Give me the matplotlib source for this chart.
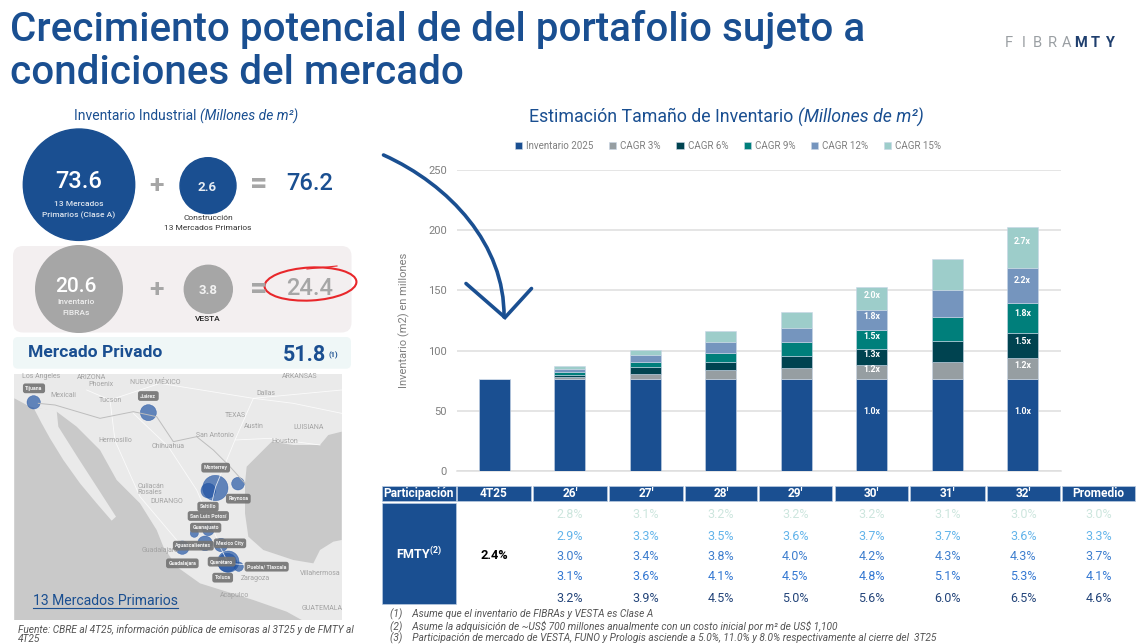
import matplotlib
matplotlib.use("Agg")
import numpy as np
import matplotlib.pyplot as plt
from matplotlib.patches import Circle, Ellipse, FancyBboxPatch, PathPatch, Polygon, Rectangle
from matplotlib.path import Path

# ==========================================================
# DATA
# ==========================================================

periods = ["4T25", "26'", "27'", "28'", "29'", "30'", "31'", "32'"]

inventario_2025 = [76.2, 76.2, 76.2, 76.2, 76.2, 76.2, 76.2, 76.2]
cagr_3 = [0, 1.9, 4.2, 7.5, 9.6, 12.2, 14.4, 17.8]
cagr_6 = [0, 2.0, 5.8, 6.9, 10.0, 13.3, 17.7, 21.0]
cagr_9 = [0, 2.2, 4.4, 7.8, 11.1, 15.5, 19.9, 24.4]
cagr_12 = [0, 2.3, 5.5, 8.6, 12.2, 16.6, 22.1, 28.8]
cagr_15 = [0, 2.6, 4.1, 9.1, 13.3, 18.8, 25.7, 34.6]

series_names = ["Inventario 2025", "CAGR 3%", "CAGR 6%", "CAGR 9%", "CAGR 12%", "CAGR 15%"]
series_values = [inventario_2025, cagr_3, cagr_6, cagr_9, cagr_12, cagr_15]
series_colors = ["#1A4F91", "#969EA2", "#004350", "#007F7B", "#7595BE", "#9DCDCA"]

labels_30 = ["1.0x", "1.2x", "1.3x", "1.5x", "1.8x", "2.0x"]
labels_32 = ["1.0x", "1.2x", "1.5x", "1.8x", "2.2x", "2.7x"]

table_header = ["Participación", "4T25", "26'", "27'", "28'", "29'", "30'", "31'", "32'", "Promedio"]
share_rows = [
    ["2.8%", "3.1%", "3.2%", "3.2%", "3.2%", "3.1%", "3.0%", "3.0%"],
    ["2.9%", "3.3%", "3.5%", "3.6%", "3.7%", "3.7%", "3.6%", "3.3%"],
    ["3.0%", "3.4%", "3.8%", "4.0%", "4.2%", "4.3%", "4.3%", "3.7%"],
    ["3.1%", "3.6%", "4.1%", "4.5%", "4.8%", "5.1%", "5.3%", "4.1%"],
    ["3.2%", "3.9%", "4.5%", "5.0%", "5.6%", "6.0%", "6.5%", "4.6%"],
]
row_colors = ["#CDE6DE", "#63B4EA", "#3F7FCE", "#3478D2", "#24457A"]

footnotes = [
    "(1)    Asume que el inventario de FIBRAs y VESTA es Clase A",
    "(2)    Asume la adquisición de ~US\\$ 700 millones anualmente con un costo inicial por m² de US\\$ 1,100",
    "(3)    Participación de mercado de VESTA, FUNO y Prologis asciende a 5.0%, 11.0% y 8.0% respectivamente al cierre del  3T25",
]

# ==========================================================
# STYLE
# ==========================================================

BLUE = "#1A4F91"
GREY = "#A6A6A6"
W, H = 1136, 644

plt.rcParams["font.family"] = ["Roboto", "DejaVu Sans"]
plt.rcParams["mathtext.fontset"] = "custom"
plt.rcParams["mathtext.rm"] = "Roboto:bold"
plt.rcParams["mathtext.bf"] = "Roboto:bold"

fig = plt.figure(figsize=(W / 100, H / 100), dpi=100, facecolor="white")

# ==========================================================
# STACKED BARS
# ==========================================================

ax = fig.add_axes([456.5 / W, 1 - 471 / H, 604 / W, 301 / H])
x = np.arange(len(periods))
bottom = np.zeros(len(periods))
handles = []

for i, (name, values, color) in enumerate(zip(series_names, series_values, series_colors)):
    values = np.array(values)
    bars = ax.bar(x, values, 0.41, bottom=bottom, color=color, label=name,
                  edgecolor="#C9D6E6", linewidth=0.4, zorder=3)
    handles.append(bars)
    for col, labels in ((5, labels_30), (7, labels_32)):
        ax.text(col, bottom[col] + values[col] * 0.65, labels[i], color="white",
                ha="center", va="center", fontsize=6.3, fontweight="bold", zorder=4)
    bottom = bottom + values

ax.set_xlim(-0.5, 7.5)
ax.set_ylim(0, 250)
ax.set_yticks([0, 50, 100, 150, 200, 250])
ax.set_xticks([])
ax.grid(axis="y", color="#DEDEDE", linewidth=1.1, zorder=0)
ax.tick_params(axis="y", length=0, pad=7, labelsize=8, labelcolor="#7F7F7F")
ax.set_ylabel("Inventario (m2) en millones", fontsize=8, color="#7F7F7F", labelpad=13)
ax.patch.set_alpha(0)
for side in ax.spines:
    ax.spines[side].set_visible(False)
ax.spines["bottom"].set_visible(True)
ax.spines["bottom"].set_color("#DEDEDE")
ax.spines["bottom"].set_linewidth(1.1)

fig.legend(handles=handles, loc="center", bbox_to_anchor=(728 / W, 1 - 146 / H), ncol=6,
           frameon=False, fontsize=7, labelcolor="#7F7F7F", handlelength=0.75, handleheight=0.75,
           handletextpad=0.4, columnspacing=1.6, borderpad=0)

# ==========================================================
# PAGE LAYER (pixel coordinates)
# ==========================================================

page = fig.add_axes([0, 0, 1, 1], zorder=5)
page.set_xlim(0, W)
page.set_ylim(H, 0)
page.axis("off")
page.patch.set_alpha(0)


def put(px, py, s, size, color="black", ha="center", weight="normal", style="normal", va="center"):
    return page.text(px, py, s, fontsize=size, color=color, ha=ha, va=va,
                     fontweight=weight, fontstyle=style)


# title and logo
put(10, 29, "Crecimiento potencial de del portafolio sujeto a", 29.1, BLUE, ha="left", weight="medium")
put(10, 73, "condiciones del mercado", 29.1, BLUE, ha="left", weight="medium")

logo_x = 1009
for letter in "FIBRA":
    put(logo_x, 43, letter, 10.5, "#9A9FA3")
    logo_x += 14.3
for letter in "MTY":
    put(logo_x, 43, letter, 10.5, "#1F3F6E", weight="bold")
    logo_x += 14.3

# section titles
put(200, 116, "Inventario Industrial ", 10, BLUE, ha="right")
put(200, 116, "(Millones de m²)", 10, BLUE, ha="left", style="italic")
put(798, 117, "Estimación Tamaño de Inventario ", 12.8, BLUE, ha="right")
put(798, 117, "(Millones de m²)", 12.8, BLUE, ha="left", style="italic")

# bubbles row 1
page.add_patch(Circle((79, 184.7), 55.7, color=BLUE))
page.add_patch(Circle((208, 185.7), 28, color=BLUE))
put(79, 181, "73.6", 17, "white", weight="medium")
put(79, 204, "13 Mercados", 6, "#DCE4EE", weight="medium")
put(79, 215, "Primarios (Clase A)", 6, "#DCE4EE", weight="medium")
put(207, 187, "2.6", 9.5, "#E6ECF3", weight="bold")
put(208, 217.5, "Construcción", 6, "#333333")
put(208, 228, "13 Mercados Primarios", 6, "#333333")
put(157, 186, "+", 19, "#A6A6A6", weight="bold")
put(259, 184, "=", 22, "#A6A6A6", weight="bold")
put(310, 183.5, "76.2", 17, BLUE, weight="medium")

# bubbles row 2
page.add_patch(FancyBboxPatch((13, 246), 338.5, 86.5, boxstyle="round,pad=0,rounding_size=10",
                              fc="#F3EFF0", ec="none"))
page.add_patch(Circle((79, 289), 43.3, color="#A6A6A6"))
page.add_patch(Circle((208.3, 289.3), 24, color="#A6A6A6"))
put(76, 286, "20.6", 15, "white", weight="medium")
put(76, 302, "Inventario", 6, "#EFEFEF", weight="medium")
put(76, 312.7, "FIBRAs", 6, "#EFEFEF", weight="medium")
put(208, 290, "3.8", 9.5, "#F2F2F2", weight="bold")
put(208, 319, "VESTA", 6, "#222222", weight="medium")
put(157, 290, "+", 19, "#A6A6A6", weight="bold")
put(259, 289, "=", 22, "#A6A6A6", weight="bold")
put(310, 288.5, "24.4", 17, GREY, weight="medium")
page.add_patch(Ellipse((310.5, 284), 92, 33, angle=-3, fc="none", ec="#E8272B", lw=1.5))
page.plot([307, 337], [269, 266], color="#E8272B", lw=0.8)

# private market box
page.add_patch(FancyBboxPatch((13, 337), 338, 31.7, boxstyle="round,pad=0,rounding_size=5",
                              fc="#EFF7F7", ec="none"))
put(27.5, 352, "Mercado Privado", 12.6, BLUE, ha="left", weight="bold")
put(304.5, 355, "51.8", 15.5, BLUE, weight="bold")
put(333, 355.5, "(1)", 5.5, BLUE, weight="bold")

# ==========================================================
# MAP (drawn in the 3x crop coordinates, then scaled)
# ==========================================================


def mp(points):
    pts = np.array(points, dtype=float)
    return np.column_stack([pts[:, 0] / 3, pts[:, 1] / 3 + 370])


pacific = [(43, 85), (90, 110), (170, 125), (230, 170), (300, 240), (350, 330), (420, 400), (470, 480),
           (490, 530), (530, 590), (600, 640), (680, 665), (760, 690), (860, 725), (905, 750), (43, 750)]
baja = [(100, 112), (170, 122), (175, 170), (235, 265), (290, 350), (348, 440), (335, 452), (290, 400),
        (240, 340), (190, 270), (150, 205), (125, 160)]
gulf = [(1025, 185), (985, 195), (960, 225), (880, 225), (815, 215), (770, 260), (740, 290), (735, 340),
        (735, 430), (745, 500), (790, 540), (880, 570), (940, 580), (960, 540), (1000, 515), (1025, 510)]
border = [(115, 100), (165, 105), (300, 145), (400, 125), (470, 140), (520, 215), (590, 200), (640, 240),
          (690, 290), (735, 340)]
roads = [
    [(260, 60), (330, 90), (480, 40), (760, 85), (1025, 60)],
    [(760, 85), (705, 210), (810, 205), (960, 225)],
    [(705, 210), (647, 350), (625, 440), (660, 530), (685, 580), (800, 590)],
    [(400, 130), (505, 230), (590, 360), (625, 440)],
    [(330, 90), (345, 212), (420, 380), (547, 530), (660, 530)],
    [(760, 85), (880, 100), (1025, 130)],
]
places = [
    ("Los Angeles", 123, 20), ("Phoenix", 303, 43), ("Tucson", 330, 90), ("Dallas", 797, 70),
    ("TEXAS", 707, 137), ("Austin", 762, 168), ("San Antonio", 645, 197), ("Houston", 855, 213),
    ("Hermosillo", 345, 212), ("Chihuahua", 505, 228), ("Culiacán", 452, 350), ("Rosales", 450, 368),
    ("Guadalajara", 480, 543), ("Zaragoza", 765, 625), ("GUATEMALA", 965, 715), ("NUEVO MÉXICO", 465, 37),
    ("ARIZONA", 275, 22), ("ARKANSAS", 900, 18), ("LUISIANA", 925, 172), ("Mexicali", 190, 77),
    ("Acapulco", 703, 677), ("Villahermosa", 960, 610), ("DURANGO", 500, 393),
]
city_boxes = [
    ("Tijuana", 102, 55), ("Juárez", 445, 78), ("Monterrey", 647, 293), ("Reynosa", 715, 386),
    ("Saltillo", 624, 410), ("San Luis Potosí", 625, 438), ("Guanajuato", 617, 473),
    ("Aguascalientes", 580, 527), ("Mexico City", 690, 520), ("Guadalajara", 547, 580),
    ("Querétaro", 665, 575), ("Puebla/ Tlaxcala", 800, 590), ("Toluca", 668, 623),
]
city_bubbles = [
    (101, 97, 20), (445, 128, 24), (646, 354, 38), (625, 362, 22), (714, 341, 19), (583, 490, 12),
    (625, 480, 17), (615, 520, 22), (547, 533, 20), (663, 525, 20), (685, 575, 32), (682, 578, 28),
    (716, 590, 14),
]

page.add_patch(Rectangle((14.3, 374.3), 327.7, 245.7, fc="#EAEAEA", ec="none"))
page.add_patch(Polygon(mp(pacific), fc="#C9C9C9", ec="none"))
page.add_patch(Polygon(mp(baja), fc="#EAEAEA", ec="none"))
page.add_patch(Polygon(mp(gulf), fc="#C9C9C9", ec="none"))
for road in roads:
    r = mp(road)
    page.plot(r[:, 0], r[:, 1], color="white", lw=0.6, alpha=0.8)
b = mp(border)
page.plot(b[:, 0], b[:, 1], color="#BDBDBD", lw=0.7)
for name, mx, my in places:
    put(mx / 3, my / 3 + 370, name, 5, "#A3A3A3")
for name, mx, my in city_boxes:
    put(mx / 3, my / 3 + 370, name, 3.8, "#EEEEEE", weight="bold").set_bbox(
        dict(boxstyle="round,pad=0.45", fc="#757575", ec="none", alpha=0.92))
for mx, my, mr in city_bubbles:
    page.add_patch(Circle((mx / 3, my / 3 + 370), mr / 3, fc="#1F52A3", ec="#1F52A3", lw=0.4, alpha=0.68))

put(33, 601, "13 Mercados Primarios", 10.1, BLUE, ha="left")
page.plot([33, 177.5], [607.5, 607.5], color=BLUE, lw=0.8)

put(18, 633, "Fuente: CBRE al 4T25, información pública de emisoras al 3T25 y de FMTY al", 7.3, "#555555",
    ha="left", style="italic", va="baseline")
put(18, 642, "4T25", 7.3, "#555555", ha="left", style="italic", va="baseline")

# ==========================================================
# ARROW
# ==========================================================

curve = Path([(383.5, 155), (450, 185), (505, 245), (504, 317)],
             [Path.MOVETO, Path.CURVE4, Path.CURVE4, Path.CURVE4])
page.add_patch(PathPatch(curve, fc="none", ec=BLUE, lw=2.6, capstyle="round"))
page.plot([466, 505, 531.5], [283.5, 317.5, 288.5], color=BLUE, lw=2.6, solid_capstyle="round",
          solid_joinstyle="miter")

# ==========================================================
# TABLE
# ==========================================================

col_left = [381.5, 457, 533, 609, 685, 758.5, 835, 910, 986.5, 1062]
col_right = [456, 531, 607, 683, 757, 832, 908, 985, 1060, 1135]
row_y = [515, 537, 556, 576, 598]

for left, right, head in zip(col_left, col_right, table_header):
    page.add_patch(Rectangle((left, 485.7), right - left, 15, fc=BLUE, ec="#B9CBE0", lw=0.5))
    put((left + right) / 2, 493.5, head, 8.6, "white", weight="bold")

page.add_patch(Rectangle((381.5, 502.7), 74.5, 101.3, fc=BLUE, ec="#B9CBE0", lw=0.5))
put(419, 553.5, "FMTY$^{(2)}$", 9, "white", weight="bold")
put(494, 555.5, "2.4%", 9.2, "black", weight="bold")

for row, color, ry in zip(share_rows, row_colors, row_y):
    for value, left, right in zip(row, col_left[2:], col_right[2:]):
        put((left + right) / 2, ry, value, 9, color)

for note, ny in zip(footnotes, [617, 629, 641]):
    put(390, ny, note, 7.3, "#555555", ha="left", style="italic", va="baseline")

fig.savefig("out.png", dpi=100)
